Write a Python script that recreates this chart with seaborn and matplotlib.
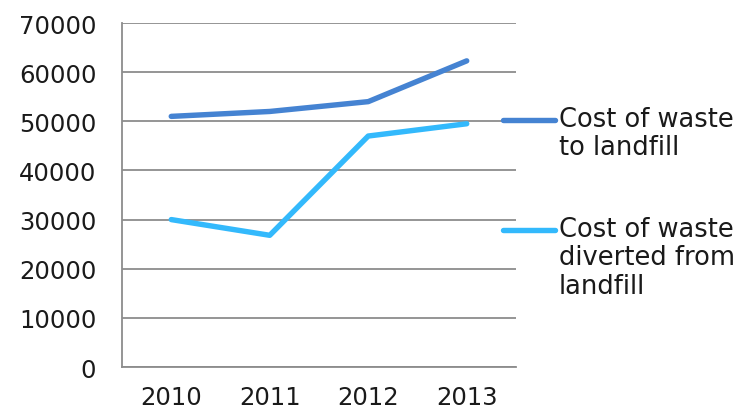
import matplotlib
matplotlib.use("Agg")
import matplotlib.pyplot as plt
from matplotlib.lines import Line2D
import seaborn as sns
import pandas as pd

years = ["2010", "2011", "2012", "2013"]
landfill_cost = [51000, 52000, 54000, 62300]
diverted_cost = [30000, 26800, 47000, 49500]
series_names = ["Cost of waste\nto landfill", "Cost of waste\ndiverted from\nlandfill"]
series_colors = ["#4583D2", "#33B9FC"]
y_ticks = [0, 10000, 20000, 30000, 40000, 50000, 60000, 70000]

df = pd.DataFrame({
    "pos": list(range(len(years))) * 2,
    "cost": landfill_cost + diverted_cost,
    "series": [series_names[0]] * len(years) + [series_names[1]] * len(years),
})

sns.set_theme(style="white")
plt.rcParams["font.family"] = ["DejaVu Sans"]

grid_col = "#8C8C8C"
txt_col = "#1a1a1a"
fs_tick = 17.5
fs_leg = 18.5

fig = plt.figure(figsize=(7.55, 4.14), dpi=100)
ax = fig.add_axes([0.1616, 0.1111, 0.6834 - 0.1616, 0.942 - 0.1111])

sns.lineplot(data=df, x="pos", y="cost", hue="series", palette=series_colors,
             linewidth=3.9, ax=ax, legend=False, solid_capstyle="round")

ax.set_xlim(-0.5, len(years) - 0.5)
ax.set_ylim(0, 70000)
ax.set_yticks(y_ticks)
ax.set_yticklabels([str(v) for v in y_ticks], fontsize=fs_tick, color=txt_col)
ax.set_xticks(range(len(years)))
ax.set_xticklabels(years, fontsize=fs_tick, color=txt_col)
ax.set_xticks([i - 0.5 for i in range(len(years) + 1)], minor=True)
ax.tick_params(axis="x", which="major", length=0, pad=13)
ax.tick_params(axis="x", which="minor", length=6, width=1.3, color=grid_col, direction="out")
ax.tick_params(axis="y", length=6.5, width=1.3, color=grid_col, direction="out", pad=12)
ax.set_xlabel("")
ax.set_ylabel("")

ax.grid(axis="y", color=grid_col, linewidth=1.3)
ax.set_axisbelow(True)
for side in ["top", "right"]:
    ax.spines[side].set_visible(False)
for side in ["left", "bottom"]:
    ax.spines[side].set_color(grid_col)
    ax.spines[side].set_linewidth(1.3)

# legend entries to the right of the plot
W, H = 755, 414
entries = [(121, series_names[0], series_colors[0]), (231, series_names[1], series_colors[1])]
for y_px, label, col in entries:
    yf = 1 - y_px / H
    fig.add_artist(Line2D([503 / W, 555 / W], [yf, yf], color=col, linewidth=3.9,
                          solid_capstyle="round", transform=fig.transFigure))
    fig.text(559 / W, 1 - (y_px - 14) / H, label, fontsize=fs_leg, color=txt_col,
             va="top", ha="left", linespacing=1.12)

fig.savefig("out.png", dpi=100, facecolor="white")
